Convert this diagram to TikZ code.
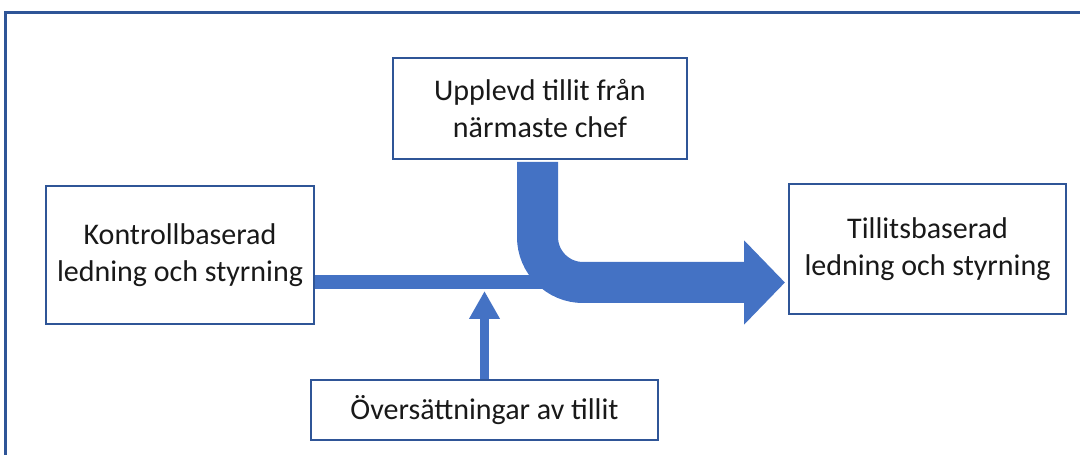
\documentclass[tikz,border=0pt]{standalone}
\usepackage{fontspec}
\setmainfont{Carlito}
\usetikzlibrary{arrows.meta,calc}
\definecolor{frameblue}{HTML}{2F5597}
\definecolor{arrowblue}{HTML}{4472C4}
\begin{document}
\begin{tikzpicture}[x=1pt,y=1pt,
  box/.style={draw=frameblue,line width=2pt,fill=white,inner sep=0pt,align=center,
    font=\fontsize{30}{37}\selectfont,text=black!90},
  bigarrow/.style={draw=arrowblue,line width=41pt,rounded corners=45.5pt,
    -{Triangle[width=82pt,length=41pt]}},
  thinbar/.style={draw=arrowblue,line width=14pt},
  uparrow/.style={draw=arrowblue,line width=9pt,-{Triangle[width=29pt,length=28pt]}}]
\useasboundingbox (0,0) rectangle (1080,455);
\draw[frameblue,line width=3pt] (1080,442) -- (5.5,442) -- (5.5,0);
\node[box,minimum width=268pt,minimum height=138pt] (left) at (180,200)
  {Kontrollbaserad\\ledning och styrning};
\node[box,minimum width=294pt,minimum height=101pt] (top) at (540,346.5)
  {Upplevd tillit från\\närmaste chef};
\node[box,minimum width=277pt,minimum height=130pt] (right) at (927.5,206)
  {Tillitsbaserad\\ledning och styrning};
\node[box,minimum width=347pt,minimum height=60pt] (bottom) at (484.5,45)
  {Översättningar av tillit};
\coordinate (a1) at ($(top.south)+(-2.5,-2)$);
\coordinate (a2) at ($(right.west)+(-3,-33.5)$);
\coordinate (b1) at ($(left.east)+(0,-27)$);
\coordinate (bj) at ($(a1 |- b1)+(25,0)$);
\coordinate (u2) at ($(bottom.north |- b1)+(0,-9)$);
\draw[thinbar] (b1) -- (bj);
\draw[uparrow] (bottom.north) -- (u2);
\draw[bigarrow] (a1) |- (a2);
\end{tikzpicture}
\end{document}
